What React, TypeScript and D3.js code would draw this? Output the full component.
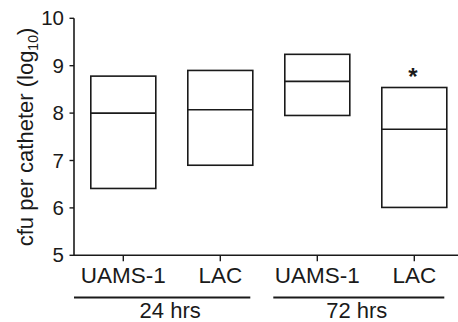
import React from 'react';
import * as d3 from 'd3';

// strains per time point, box values in log10 cfu
const strains = ['UAMS-1', 'LAC', 'UAMS-1', 'LAC'];
const groupNames = ['24 hrs', '72 hrs'];
const groupOf = [0, 0, 1, 1];
const lowQ = [6.41, 6.9, 7.95, 6.01];
const medians = [8.0, 8.07, 8.67, 7.66];
const highQ = [8.78, 8.9, 9.24, 8.54];
const starred = [false, false, false, true];
const yTicks = [5, 6, 7, 8, 9, 10];

const W = 458;
const H = 322;
const font = 'Liberation Sans, Arial, sans-serif';
const ink = '#1a1a1a';

const yScale = d3.scaleLinear().domain([5, 10]).range([255.3, 18.3]);
const xScale = d3.scalePoint<number>()
  .domain(strains.map((_, i) => i))
  .range([123.3, 414.3]);
const axisX = 74;
const boxW = 65;

// group label lines
const groupLine = (g: number) => {
  const idx = strains.map((_, i) => i).filter(i => groupOf[i] === g);
  const lo = g === 0 ? axisX : xScale(idx[0])! - 44;
  const hi = xScale(idx[idx.length - 1])! + 30;
  return { lo, hi, mid: g === 0 ? (lo + hi) / 2 + 8 : (lo + hi) / 2 - 2 };
};

export default function App() {
  const y0 = yScale(5);
  return (
    <svg width={W} height={H} style={{ position: 'absolute', left: 0, top: 0, background: '#fff' }}
      fontFamily={font}>
      {/* y axis */}
      <line x1={axisX} x2={axisX} y1={yScale(10)} y2={y0} stroke={ink} strokeWidth={1.6} />
      {yTicks.map(t => (
        <g key={t}>
          <line x1={axisX - 4.5} x2={axisX} y1={yScale(t)} y2={yScale(t)} stroke={ink} strokeWidth={1.4} />
          <text x={axisX - 10} y={yScale(t)} dy="0.35em" textAnchor="end" fontSize={20.5} fill={ink}>{t}</text>
        </g>
      ))}
      <text transform={`translate(32.5,137) rotate(-90)`} textAnchor="middle" fontSize={22} fill={ink}>
        cfu per catheter (log<tspan fontSize={14} dy={5}>10</tspan><tspan dy={-5}>)</tspan>
      </text>

      {/* x axis */}
      <line x1={axisX} x2={W} y1={y0} y2={y0} stroke={ink} strokeWidth={1.6} />
      {strains.map((s, i) => (
        <g key={i}>
          <line x1={xScale(i)} x2={xScale(i)} y1={y0} y2={y0 + 6} stroke={ink} strokeWidth={1.4} />
          <text x={xScale(i)} y={282.7} textAnchor="middle" fontSize={22.5} fill={ink}>{s}</text>
        </g>
      ))}

      {groupNames.map((g, gi) => {
        const l = groupLine(gi);
        return (
          <g key={g}>
            <line x1={l.lo} x2={l.hi} y1={297.5} y2={297.5} stroke={ink} strokeWidth={2} />
            <text x={l.mid} y={317.5} textAnchor="middle" fontSize={22} fill={ink}>{g}</text>
          </g>
        );
      })}

      {/* boxes */}
      {strains.map((_, i) => {
        const cx = xScale(i)!;
        return (
          <g key={'b' + i}>
            <rect x={cx - boxW / 2} y={yScale(highQ[i])} width={boxW}
              height={yScale(lowQ[i]) - yScale(highQ[i])} fill="none" stroke={ink} strokeWidth={1.6} />
            <line x1={cx - boxW / 2} x2={cx + boxW / 2} y1={yScale(medians[i])} y2={yScale(medians[i])}
              stroke={ink} strokeWidth={1.6} />
            {starred[i] && (
              <text x={cx - 1.5} y={yScale(highQ[i]) - 2.5} textAnchor="middle" fontSize={24}
                fontWeight="bold" fill={ink}>*</text>
            )}
          </g>
        );
      })}
    </svg>
  );
}
